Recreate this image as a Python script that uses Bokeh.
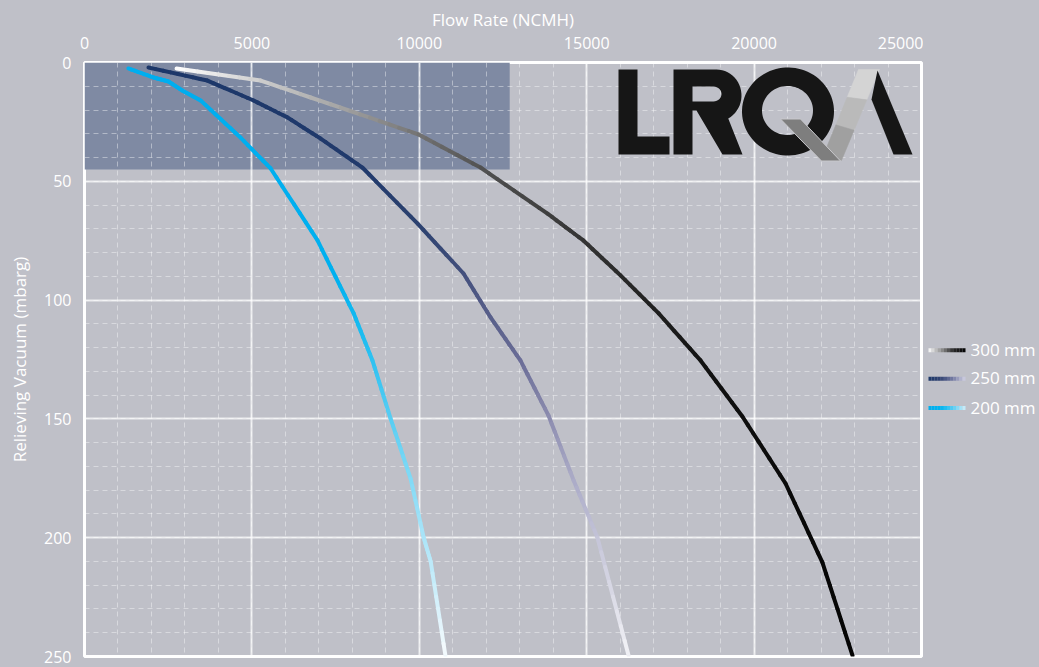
import math
import numpy as np
from bokeh.plotting import figure
from bokeh.models import Range1d, FixedTicker
from bokeh.layouts import row
from bokeh.core.properties import value
from bokeh.embed import file_html
from bokeh.resources import INLINE

# ---------------- data ----------------
x_ticks = [0, 5000, 10000, 15000, 20000, 25000]
y_ticks = [0, 50, 100, 150, 200, 250]
series_names = ["300 mm", "250 mm", "200 mm"]

flow_300 = [2750, 5260, 7650, 9980, 11830, 13830, 14900, 16010, 17150, 18400, 19650, 20940, 22040, 22940]
vac_300 = [2.5, 7.6, 19.0, 30.3, 44.2, 63.6, 74.9, 89.6, 105.6, 125.4, 149.0, 177.2, 210.4, 249.6]

flow_250 = [1910, 3670, 5050, 6060, 7050, 8300, 9950, 11320, 12130, 13020, 13860, 14610, 15320, 16250]
vac_250 = [2.1, 7.6, 16.0, 23.1, 32.0, 44.2, 67.8, 88.8, 107.3, 125.4, 148.6, 175.9, 199.9, 249.6]

flow_200 = [1310, 2060, 2510, 2920, 3470, 4660, 5560, 6960, 8040, 8600, 9140, 9740, 10130, 10340, 10780]
vac_200 = [2.5, 6.3, 8.0, 11.8, 16.0, 31.6, 44.6, 74.9, 105.6, 125.4, 149.8, 175.1, 199.9, 210.0, 249.6]

zone_flow = [0, 12700]
zone_vac = [0, 45]

# ---------------- style ----------------
BG = "#bfc0c8"
FONT = "Open Sans"
W_MAIN, W_LEG, H = 923, 113, 667


def hexc(rgb):
    return "#%02x%02x%02x" % tuple(int(round(c)) for c in rgb)


def ramp(t, stops_t, stops_c):
    c = np.array(stops_c, dtype=float)
    return hexc([np.interp(t, stops_t, c[:, k]) for k in range(3)])


grad_300 = ([2700, 5300, 7600, 10000, 12000, 15000, 18500, 23000],
            [(255, 255, 255), (205, 205, 205), (165, 165, 165), (115, 115, 115),
             (80, 80, 80), (52, 52, 52), (18, 18, 18), (4, 4, 4)])
grad_250 = ([0, 45, 70, 90, 107, 125, 150, 175, 200, 250],
            [(28, 55, 105), (33, 58, 108), (45, 66, 112), (68, 80, 125), (88, 95, 138),
             (105, 108, 150), (140, 140, 175), (170, 170, 198), (195, 195, 215), (242, 242, 246)])
grad_200 = ([0, 90, 110, 140, 170, 200, 250],
            [(0, 174, 239), (0, 176, 239), (20, 186, 240), (70, 200, 242),
             (120, 215, 245), (170, 228, 248), (246, 250, 253)])

p = figure(width=W_MAIN, height=H, x_range=Range1d(0, 25000), y_range=Range1d(250, 0),
           x_axis_location="above", output_backend="svg", toolbar_location=None,
           min_border_left=84, min_border_right=2, min_border_top=62, min_border_bottom=11,
           x_axis_label="Flow Rate (NCMH)", y_axis_label="Relieving Vacuum (mbarg)")
p.background_fill_color = BG
p.border_fill_color = BG
p.outline_line_color = "white"
p.outline_line_width = 3

p.xaxis.ticker = FixedTicker(ticks=x_ticks, minor_ticks=list(range(0, 25001, 1000)))
p.yaxis.ticker = FixedTicker(ticks=y_ticks, minor_ticks=list(range(0, 251, 10)))
for ax in (p.xaxis, p.yaxis):
    ax.axis_line_color = None
    ax.major_tick_line_color = None
    ax.minor_tick_line_color = None
    ax.major_tick_out = 0
    ax.minor_tick_out = 0
    ax.major_tick_in = 0
    ax.minor_tick_in = 0
    ax.major_label_text_color = "white"
    ax.major_label_text_font = FONT
    ax.major_label_text_font_size = "16px"
    ax.axis_label_text_color = "white"
    ax.axis_label_text_font = FONT
    ax.axis_label_text_font_size = "17px"
    ax.axis_label_text_font_style = "normal"
p.xaxis.major_label_standoff = 14
p.xaxis.axis_label_standoff = 3
p.yaxis.major_label_standoff = 13
p.yaxis.axis_label_standoff = 10

for g in (p.xgrid, p.ygrid):
    g.grid_line_color = "white"
    g.grid_line_alpha = 0.7
    g.grid_line_width = 2
    g.minor_grid_line_color = "white"
    g.minor_grid_line_alpha = 0.4
    g.minor_grid_line_width = 1
    g.minor_grid_line_dash = "5 4"

# shaded zone
p.quad(left=[zone_flow[0]], right=[zone_flow[1]], top=[zone_vac[0]], bottom=[zone_vac[1]],
       fill_color="#7f8aa3", line_color=None, level="image")

# curves: each straight piece between read points is stroked in short colour steps
N_SUB = 8
for flows, vacs, grad, by_x in ((flow_300, vac_300, grad_300, True),
                                (flow_250, vac_250, grad_250, False),
                                (flow_200, vac_200, grad_200, False)):
    sx0, sy0, sx1, sy1, cols = [], [], [], [], []
    for a, b, c, d in zip(flows[:-1], flows[1:], vacs[:-1], vacs[1:]):
        fr = np.linspace(0, 1, N_SUB + 1)
        xs = a + (b - a) * fr
        ys = c + (d - c) * fr
        for k in range(N_SUB):
            sx0.append(xs[k]); sx1.append(xs[k + 1])
            sy0.append(ys[k]); sy1.append(ys[k + 1])
            t = (xs[k] + xs[k + 1]) / 2 if by_x else (ys[k] + ys[k + 1]) / 2
            cols.append(ramp(t, *grad))
    p.segment(x0=sx0, y0=sy0, x1=sx1, y1=sy1, line_color=cols, line_width=4, line_cap="round")

# ---------------- logo (decoration, placed in frame pixel space) ----------------
XPP = 25000 / 837.0
YPP = 250 / 594.0


def conv(pts):
    return [(a - 84) * XPP for a, b in pts], [(b - 62) * YPP for a, b in pts]


def arc(cx, cy, rx, ry, a0, a1, n=24):
    return [(cx + rx * math.cos(math.radians(t)), cy + ry * math.sin(math.radians(t)))
            for t in np.linspace(a0, a1, n)]


def lerp(P, Q, f):
    return (P[0] + (Q[0] - P[0]) * f, P[1] + (Q[1] - P[1]) * f)


LOGO_BLACK = "#161616"
# L
lx, ly = conv([(618, 154), (618, 69), (637, 69), (637, 136), (669, 136), (669, 154)])
p.patch(lx, ly, fill_color=LOGO_BLACK, line_color=None)

# R
R_outer = [(673, 154), (673, 69), (716, 69)] + arc(716, 95, 25, 26, -90, 62) + \
          [(742, 154), (722, 154), (696, 110), (692, 110), (692, 154)]
R_hole = [(692, 86), (713, 86)] + arc(713, 93.5, 8, 7.5, -90, 90, 16)[1:] + [(692, 101)]
rox, roy = conv(R_outer)
rhx, rhy = conv(R_hole)
p.multi_polygons(xs=[[[rox, rhx]]], ys=[[[roy, rhy]]], fill_color=LOGO_BLACK, line_color=None)

# Q ring
qox, qoy = conv(arc(787.5, 111, 46, 44, 0, 360, 90))
qix, qiy = conv(arc(787, 110, 25.5, 24.5, 0, 360, 90))
p.multi_polygons(xs=[[[qox, qix]]], ys=[[[qoy, qiy]]], fill_color=LOGO_BLACK, line_color=None)

# grey slash (three tonal bands, light at the top)
TL, TR, BR, BL = (858, 69), (879, 69), (841, 160), (824, 152)
bands = ["#d4d4d4", "#bababa", "#a0a0a0"]
for i, col in enumerate(bands):
    f0, f1 = i / 3, (i + 1) / 3
    poly = [lerp(TL, BL, f0), lerp(TR, BR, f0), lerp(TR, BR, f1), lerp(TL, BL, f1)]
    sx, sy = conv(poly)
    p.patch(sx, sy, fill_color=col, line_color=col, line_width=0.5)

# Q tail
tx, ty = conv([(780, 118.5), (800, 118.5), (840, 160.5), (821, 160.5)])
p.patch(tx, ty, fill_color="#7e7e7e", line_color="#c8c8cc", line_width=1)

# right leg of the A
ax_, ay_ = conv([(877, 70), (912, 154), (893, 154), (871, 99)])
p.patch(ax_, ay_, fill_color=LOGO_BLACK, line_color=None)

# ---------------- legend panel ----------------
lg = figure(width=W_LEG, height=H, x_range=Range1d(0, W_LEG), y_range=Range1d(H, 0),
            x_axis_location=None, y_axis_location=None, output_backend="svg",
            toolbar_location=None, min_border=0)
lg.background_fill_color = BG
lg.border_fill_color = BG
lg.outline_line_color = None
lg.grid.visible = False

leg_y = [323, 355, 388]
leg_grads = [[(255, 255, 255), (150, 150, 150), (40, 40, 40), (0, 0, 0)],
             [(28, 55, 105), (50, 68, 115), (120, 125, 165), (210, 210, 228)],
             [(0, 174, 239), (0, 180, 240), (90, 205, 243), (210, 238, 250)]]
n_sub = 12
sw_x0, sw_x1 = 5, 42
for yy, stops in zip(leg_y, leg_grads):
    xs = np.linspace(sw_x0, sw_x1, n_sub + 1)
    cols = [ramp((k + 0.5) / n_sub, np.linspace(0, 1, len(stops)), stops) for k in range(n_sub)]
    lg.segment(x0=list(xs[:-1]), y0=[yy] * n_sub, x1=list(xs[1:]), y1=[yy] * n_sub,
               line_color=cols, line_width=4)
lg.text(x=[47] * 3, y=[v - 1 for v in leg_y], text=series_names, text_font=value(FONT),
        text_font_size=value("17px"), text_color="white", text_baseline="middle")

layout = row(p, lg)
html = file_html(layout, INLINE)
html = html.replace("<head>", "<head><style>html, body { background: %s; }</style>" % BG, 1)
open("out.html", "w").write(html)
